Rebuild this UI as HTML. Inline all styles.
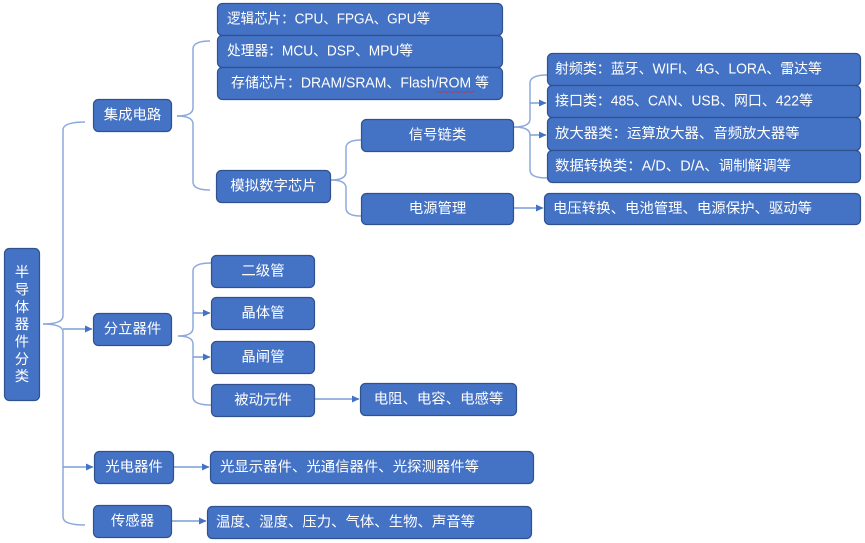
<!DOCTYPE html>
<html><head><meta charset="utf-8"><style>
html,body{margin:0;padding:0;background:#fff;}
svg{display:block;}
text{font-family:"Liberation Sans","Noto Sans CJK SC","WenQuanYi Zen Hei",sans-serif;font-size:14.4px;fill:#fff;dominant-baseline:central;}
.b{fill:#4472c4;stroke:#2f528f;stroke-width:1.2;}
.br{fill:none;stroke:#8eaadc;stroke-width:1.5;}
.ar{fill:none;stroke:#7c9ed8;stroke-width:1.5;}
</style></head><body>
<svg width="865" height="543" viewBox="0 0 865 543" xmlns="http://www.w3.org/2000/svg">
<defs>
<marker id="ah" markerWidth="8" markerHeight="8" refX="7" refY="4" orient="auto" markerUnits="userSpaceOnUse">
<path d="M0,0.5 L7.5,4 L0,7.5 Z" fill="#4472c4"/>
</marker>
</defs>

<!-- connectors -->
<path class="br" d="M43,324 Q63,324 63,316 L63,130 Q63,122 85,122"/>
<path class="br" d="M43,324 Q63,324 63,332 L63,517 Q63,525 85,525"/>
<path class="ar" d="M63,329 L92,329" marker-end="url(#ah)"/>
<path class="ar" d="M63,467 L93,467" marker-end="url(#ah)"/>

<path class="br" d="M177,116 Q193,116 193,108 L193,49 Q193,41 210,41"/>
<path class="br" d="M177,116 Q193,116 193,124 L193,182 Q193,190 210,190"/>

<path class="br" d="M331,180 Q346,180 346,172 L346,148 Q346,140 361,140"/>
<path class="br" d="M331,180 Q346,180 346,188 L346,208 Q346,216 361,216"/>

<path class="br" d="M514,127 Q530,127 530,119 L530,83 Q530,75 547,75"/>
<path class="br" d="M514,127 Q530,127 530,135 L530,170 Q530,178 547,178"/>
<path class="ar" d="M530,103 L546,103" marker-end="url(#ah)"/>
<path class="ar" d="M530,135 L546,135" marker-end="url(#ah)"/>
<path class="ar" d="M513,208 L543,208" marker-end="url(#ah)"/>

<path class="br" d="M178,336 Q193,336 193,328 L193,271 Q193,263 211,263"/>
<path class="br" d="M178,336 Q193,336 193,344 L193,397 Q193,405 211,405"/>
<path class="ar" d="M193,313 L210,313" marker-end="url(#ah)"/>
<path class="ar" d="M193,357 L210,357" marker-end="url(#ah)"/>
<path class="ar" d="M314,399 L359,399" marker-end="url(#ah)"/>
<path class="ar" d="M173,467 L209,467" marker-end="url(#ah)"/>
<path class="ar" d="M171,521 L206,521" marker-end="url(#ah)"/>

<!-- boxes -->
<rect class="b" x="4.5" y="248.5" width="35" height="152" rx="5"/>
<g text-anchor="middle">
<text x="22" y="273">半</text>
<text x="22" y="290.5">导</text>
<text x="22" y="308">体</text>
<text x="22" y="325">器</text>
<text x="22" y="342.5">件</text>
<text x="22" y="360">分</text>
<text x="22" y="377">类</text>
</g>

<rect class="b" x="93.5" y="99.5" width="78" height="32" rx="5"/>
<text x="132.5" y="115.5" text-anchor="middle">集成电路</text>
<rect class="b" x="93.5" y="313.5" width="78" height="32" rx="5"/>
<text x="132.5" y="329.5" text-anchor="middle">分立器件</text>
<rect class="b" x="94.5" y="451.5" width="79" height="32" rx="5"/>
<text x="134" y="467.5" text-anchor="middle">光电器件</text>
<rect class="b" x="93.5" y="505.5" width="78" height="32" rx="5"/>
<text x="132.5" y="521.5" text-anchor="middle">传感器</text>

<rect class="b" x="217.5" y="3.5" width="285" height="32" rx="5"/>
<text x="227" y="19.5" textLength="203" lengthAdjust="spacingAndGlyphs">逻辑芯片：CPU、FPGA、GPU等</text>
<rect class="b" x="217.5" y="35.5" width="285" height="32" rx="5"/>
<text x="227" y="51.5" textLength="186" lengthAdjust="spacingAndGlyphs">处理器：MCU、DSP、MPU等</text>
<rect class="b" x="217.5" y="67.5" width="285" height="32" rx="5"/>
<text x="231" y="83.5" textLength="258" lengthAdjust="spacingAndGlyphs">存储芯片：DRAM/SRAM、Flash/ROM 等</text>
<path d="M436,92 q1.5,-1.5 3,0 t3,0 t3,0 t3,0 t3,0 t3,0 t3,0 t3,0 t3,0 t3,0 t3,0 t3,0 t3,0" fill="none" stroke="#d03030" stroke-width="0.8"/>

<rect class="b" x="216.5" y="170.5" width="114" height="32" rx="5"/>
<text x="273.5" y="186.5" text-anchor="middle">模拟数字芯片</text>

<rect class="b" x="361.5" y="119.5" width="152" height="32" rx="5"/>
<text x="437.5" y="135.5" text-anchor="middle">信号链类</text>
<rect class="b" x="361.5" y="193.5" width="152" height="31" rx="5"/>
<text x="437.5" y="209" text-anchor="middle">电源管理</text>

<rect class="b" x="547.5" y="53.5" width="313" height="32" rx="5"/>
<text x="555" y="69.5" textLength="267" lengthAdjust="spacingAndGlyphs">射频类：蓝牙、WIFI、4G、LORA、雷达等</text>
<rect class="b" x="547.5" y="85.5" width="313" height="32" rx="5"/>
<text x="555" y="101.5" textLength="258" lengthAdjust="spacingAndGlyphs">接口类：485、CAN、USB、网口、422等</text>
<rect class="b" x="547.5" y="117.5" width="313" height="33" rx="5"/>
<text x="555" y="134">放大器类：运算放大器、音频放大器等</text>
<rect class="b" x="547.5" y="150.5" width="313" height="32" rx="5"/>
<text x="555" y="166.5" textLength="236" lengthAdjust="spacingAndGlyphs">数据转换类：A/D、D/A、调制解调等</text>
<rect class="b" x="544.5" y="193.5" width="316" height="31" rx="5"/>
<text x="553" y="209">电压转换、电池管理、电源保护、驱动等</text>

<rect class="b" x="211.5" y="255.5" width="103" height="32" rx="5"/>
<text x="263" y="271.5" text-anchor="middle">二级管</text>
<rect class="b" x="211.5" y="297.5" width="103" height="32" rx="5"/>
<text x="263" y="313.5" text-anchor="middle">晶体管</text>
<rect class="b" x="211.5" y="341.5" width="103" height="32" rx="5"/>
<text x="263" y="357.5" text-anchor="middle">晶闸管</text>
<rect class="b" x="211.5" y="384.5" width="103" height="32" rx="5"/>
<text x="263" y="400.5" text-anchor="middle">被动元件</text>

<rect class="b" x="360.5" y="383.5" width="156" height="32" rx="5"/>
<text x="438.5" y="399.5" text-anchor="middle">电阻、电容、电感等</text>

<rect class="b" x="210.5" y="451.5" width="323" height="32" rx="5"/>
<text x="220" y="467.5">光显示器件、光通信器件、光探测器件等</text>
<rect class="b" x="207.5" y="506.5" width="324" height="32" rx="5"/>
<text x="216" y="522.5">温度、湿度、压力、气体、生物、声音等</text>
</svg>
</body></html>
